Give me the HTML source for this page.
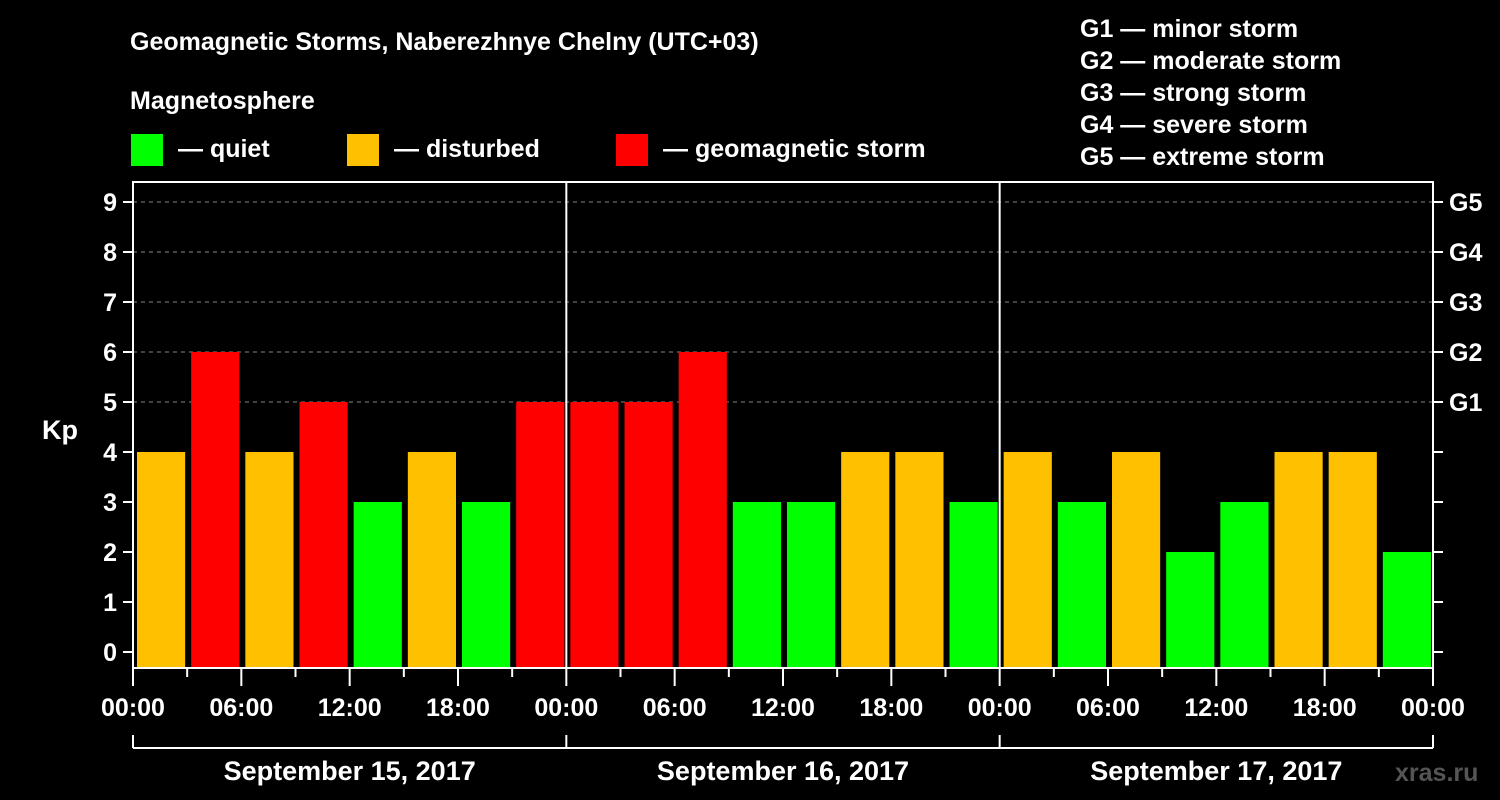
<!DOCTYPE html>
<html><head><meta charset="utf-8"><style>
html,body{margin:0;padding:0;background:#000;}
svg{display:block;font-family:"Liberation Sans",Arial,sans-serif;font-weight:bold;}
</style></head><body>
<svg id="c" width="1500" height="800" viewBox="0 0 1500 800">
<rect width="1500" height="800" fill="#000"/>
<text x="130" y="50" fill="#fff" font-size="25">Geomagnetic Storms, Naberezhnye Chelny (UTC+03)</text>
<text x="130" y="109" fill="#fff" font-size="25">Magnetosphere</text>
<g><rect x="131" y="134" width="32" height="32" fill="#00ff00"/><text x="178" y="157" fill="#fff" font-size="25">— quiet</text></g>
<g><rect x="347" y="134" width="32" height="32" fill="#ffc000"/><text x="394" y="157" fill="#fff" font-size="25">— disturbed</text></g>
<g><rect x="616" y="134" width="32" height="32" fill="#ff0000"/><text x="663" y="157" fill="#fff" font-size="25">— geomagnetic storm</text></g>
<g fill="#fff" font-size="25">
<text x="1080" y="37">G1 — minor storm</text>
<text x="1080" y="69">G2 — moderate storm</text>
<text x="1080" y="101">G3 — strong storm</text>
<text x="1080" y="133">G4 — severe storm</text>
<text x="1080" y="165">G5 — extreme storm</text>
</g>
<text x="42" y="439" fill="#fff" font-size="27">Kp</text>
<text x="1395" y="781" fill="#555" font-size="25">xras.ru</text>
<g id="plot"></g>
</svg>
<script>
const kpValues = [4,6,4,5,3,4,3,5, 5,5,6,3,3,4,4,3, 4,3,4,2,3,4,4,2];
const dayLabels = ["September 15, 2017","September 16, 2017","September 17, 2017"];
const hourLabels = ["00:00","06:00","12:00","18:00"];
const kpTicks = [0,1,2,3,4,5,6,7,8,9];
const gLabels = ["G1","G2","G3","G4","G5"];

const NS="http://www.w3.org/2000/svg";
const g=document.getElementById('plot');
const L=133,R=1433,T=182,B=668;
const hours=kpValues.length*3;
const xh=h=>L+(R-L)*h/hours;
const y=v=>652-50*v;
function mk(t,a,p){const e=document.createElementNS(NS,t);for(const k in a)e.setAttribute(k,a[k]);(p||g).appendChild(e);return e;}
// grid
kpTicks.forEach(v=>{
  if(v>=5){const l=mk('line',{x1:L,x2:R,y1:y(v),y2:y(v),stroke:'#888','stroke-dasharray':'4,4','stroke-width':1});
  
  }
});
// bars
kpValues.forEach((v,i)=>{
  const c=v>=5?'#ff0000':(v>=4?'#ffc000':'#00ff00');
  const x0=xh(i*3)+4,x1=xh(i*3+3)-2;
  const r=mk('rect',{x:x0,y:y(v),width:x1-x0,height:B-y(v),fill:c});
  
  
});
// axes
const fr=mk('rect',{x:L,y:T,width:R-L,height:B-T,fill:'none',stroke:'#fff','stroke-width':2});


for(let d=1;d<dayLabels.length;d++){
  const l=mk('line',{x1:xh(d*24),x2:xh(d*24),y1:T,y2:B,stroke:'#fff','stroke-width':2});
  
  
}
kpTicks.forEach(v=>{
  mk('line',{x1:L-10,x2:L,y1:y(v),y2:y(v),stroke:'#fff','stroke-width':2});
  mk('line',{x1:R,x2:R+10,y1:y(v),y2:y(v),stroke:'#fff','stroke-width':2});
  const t=mk('text',{x:L-16,y:y(v)+9,fill:'#fff','font-size':25,'text-anchor':'end'});t.textContent=v;
  
  
});
gLabels.forEach((s,i)=>{
  const t=mk('text',{x:R+16,y:y(5+i)+9,fill:'#fff','font-size':25});t.textContent=s;
  
  
});
for(let h=0;h<=hours;h+=3){
  const long=h%6===0;
  mk('line',{x1:xh(h),x2:xh(h),y1:B,y2:B+(long?18:9),stroke:'#fff','stroke-width':2});
  if(h%6===0){
    const t=mk('text',{x:xh(h),y:716,fill:'#fff','font-size':25,'text-anchor':'middle'});
    t.textContent=hourLabels[(h/6)%4];
    
    
  }
}
mk('line',{x1:xh(0),x2:xh(hours),y1:748,y2:748,stroke:'#fff','stroke-width':2});
dayLabels.forEach((s,d)=>{
  mk('line',{x1:xh(d*24),x2:xh(d*24),y1:735,y2:748,stroke:'#fff','stroke-width':2});
  const t=mk('text',{x:xh(d*24+12),y:780,fill:'#fff','font-size':27,'text-anchor':'middle'});t.textContent=s;
  
  
});
mk('line',{x1:xh(hours),x2:xh(hours),y1:735,y2:748,stroke:'#fff','stroke-width':2});
</script>
</body></html>
